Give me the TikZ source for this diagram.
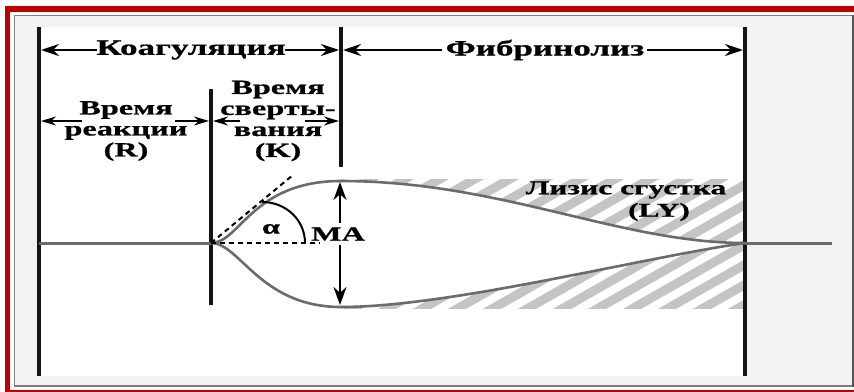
\documentclass[tikz,border=0pt]{standalone}
\usepackage{fontspec}
\setmainfont{Liberation Serif}[FakeStretch=1.6, BoldFeatures={FakeBold=0.8}]
\usetikzlibrary{arrows.meta}
\definecolor{frred}{HTML}{C00000}
\definecolor{frgray}{HTML}{808080}
\definecolor{frdark}{HTML}{555555}
\definecolor{bggray}{HTML}{F2F2F2}
\definecolor{curvegray}{HTML}{6B6B6B}
\definecolor{hatchgray}{HTML}{C4C4C4}
\tikzset{
  vline/.style={line width=3.6pt, black!92},
  curve/.style={line width=2.6pt, curvegray},
  base/.style={line width=3pt, curvegray},
  toparrow/.style={line width=2.2pt, -{Stealth[length=18pt,width=12pt]}},
  midarrow/.style={line width=1.6pt, -{Stealth[length=15pt,width=9pt]}},
  maarrow/.style={line width=2.2pt, -{Stealth[length=18pt,width=13pt]}},
  dashline/.style={line width=2pt, dash pattern=on 5pt off 4pt},
  lbl/.style={font=\fontsize{20.2}{21}\selectfont\bfseries, inner sep=0pt, align=center},
  toplbl/.style={lbl, font=\fontsize{21.9}{22}\selectfont\bfseries},
  lyslbl/.style={lbl, font=\fontsize{19.7}{21}\selectfont\bfseries},
  hatch/.style={line width=9pt, hatchgray}
}
\begin{document}
\begin{tikzpicture}[x=1pt,y=-1pt]
\useasboundingbox (0,0) rectangle (854,391);
% frame
\fill[white] (0,0) rectangle (854,391);
\draw[frred, line width=5.5pt] (7.5,9) rectangle (860,392.5);
\fill[bggray] (14.5,15.5) rectangle (852.5,386);
\draw[frgray, line width=1.5pt] (852.5,15.5) -- (14.5,15.5) -- (14.5,386) -- (852.5,386);
\draw[frdark, line width=2.5pt] (852.8,15) -- (852.8,386.5);
\fill[white] (39,27) rectangle (745,376);

% coordinates
\coordinate (O) at (211,243);
\coordinate (E) at (745,243);
\coordinate (Up) at (341,181);
\coordinate (Lo) at (341,307);

% hatching
\begin{scope}
  \clip (341,179) rectangle (743,308);
  \foreach \k in {-9,...,13} {
    \draw[hatch] ({315+35*\k},330) -- ++(300,-171);
  }
\end{scope}
\fill[white] (Up) .. controls (500,181) and (620,243) .. (E)
  .. controls (640,258) and (450,307) .. (Lo) -- cycle;

% vertical lines
\coordinate (L1t) at (39,27);  \coordinate (L1b) at (39,376);
\coordinate (L2t) at (211,89); \coordinate (L2b) at (211,305);
\coordinate (L3t) at (341,27); \coordinate (L3b) at (341,167);
\coordinate (L4t) at (745,27); \coordinate (L4b) at (745,376);
\draw[vline] (L1t) -- (L1b);
\draw[vline] (L2t) -- (L2b);
\draw[vline] (L3t) -- (L3b);
\draw[vline] (L4t) -- (L4b);

% baseline
\coordinate (B0) at (39,243);
\coordinate (B1) at (832,243);
\draw[base] (B0) -- (O);
\draw[base] (E) -- (B1);

% curves
\draw[curve] (O) .. controls (240,243) and (252,181) .. (Up)
  .. controls (500,181) and (620,243) .. (E);
\draw[curve] (O) .. controls (240,243) and (260,307) .. (Lo)
  .. controls (450,307) and (640,258) .. (E);

% tangent and angle
\coordinate (T) at (293,175);
\coordinate (H) at (320,243);
\draw[dashline] (O) -- (T);
\draw[dashline] (O) -- (H);
\coordinate (A1) at (262,202);
\coordinate (A2) at (305,243);
\draw[line width=2pt] (A1) .. controls (286,202) and (305,220) .. (A2);
\node[lbl] (alpha) at (271,229) {α};

% MA
\node[lbl] (MA) at (338,234) {MA};
\coordinate (MAt) at (340,182);
\coordinate (MAb) at (340,305);
\coordinate (MAu) at (340,223);
\coordinate (MAd) at (340,245);
\draw[maarrow] (MAu) -- (MAt);
\draw[maarrow] (MAd) -- (MAb);

% top labels
\node[toplbl] (koag) at (191,50) {Коагуляция};
\node[toplbl] (fibr) at (545,50) {Фибринолиз};
\coordinate (k1) at (97,50);  \coordinate (k1e) at (41,50);
\coordinate (k2) at (285,50); \coordinate (k2e) at (339,50);
\coordinate (f1) at (442,50); \coordinate (f1e) at (343,50);
\coordinate (f2) at (647,50); \coordinate (f2e) at (743,50);
\draw[toparrow] (k1) -- (k1e);
\draw[toparrow] (k2) -- (k2e);
\draw[toparrow] (f1) -- (f1e);
\draw[toparrow] (f2) -- (f2e);

% second row
\node[lbl] (R) at (126,131) {Время\\реакции\\(R)};
\node[lbl] (K) at (278,121) {Время\\сверты-\\вания\\(K)};
\coordinate (r1) at (82,121);  \coordinate (r1e) at (41,121);
\coordinate (r2) at (175,121); \coordinate (r2e) at (209,121);
\coordinate (c1) at (240,121); \coordinate (c1e) at (213,121);
\coordinate (c2) at (305,121); \coordinate (c2e) at (339,121);
\draw[midarrow] (r1) -- (r1e);
\draw[midarrow] (r2) -- (r2e);
\draw[midarrow] (c1) -- (c1e);
\draw[midarrow] (c2) -- (c2e);

% lysis
\node[lyslbl] (lys) at (626,190) {Лизис сгустка};
\node[lyslbl] (ly) at (659,212) {(LY)};
\end{tikzpicture}
\end{document}
